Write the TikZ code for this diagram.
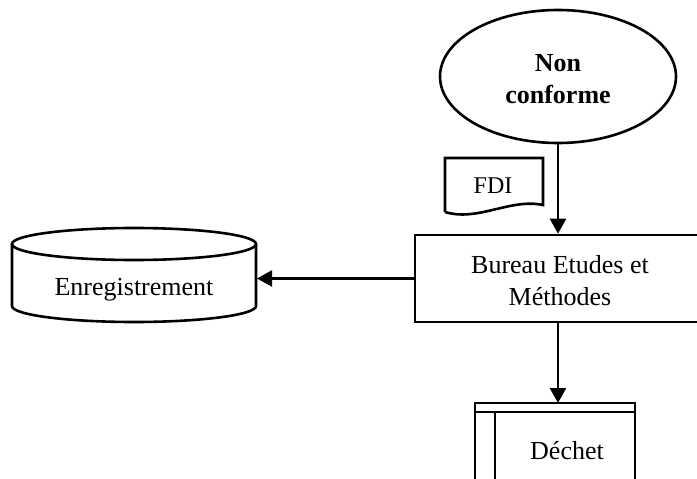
\documentclass[tikz,border=0pt]{standalone}
\usepackage{fontspec}
\setmainfont{Liberation Serif}
\usetikzlibrary{shapes.geometric,arrows.meta,calc}
\begin{document}
\begin{tikzpicture}[x=1pt,y=-1pt,
  outline/.style={draw=black,line width=2.6pt},
  flow/.style={line width=2.6pt,-{Triangle[length=15pt,width=16pt]}},
  txt/.style={font=\fontsize{26}{32}\selectfont,align=center,inner sep=0pt}]
\useasboundingbox (0,0) rectangle (697,479);
\clip (0,0) rectangle (697,479);

% start event
\node[outline,ellipse,minimum width=236pt,minimum height=133pt,inner sep=0pt] (nc) at (558,76.5) {};
\node[txt,font=\fontsize{26}{32}\selectfont\bfseries] (nctext) at (558,79) {Non\\conforme};

% processing office
\node[outline,rectangle,minimum width=290pt,minimum height=87pt] (bem) at (560,278.5) {};
\node[txt] (bemtext) at (560,281) {Bureau Etudes et\\Méthodes};

% document symbol
\draw[outline,line join=miter] (445,212) -- (445,158) -- (543,158) -- (543,205)
  .. controls (510,198) and (478,222) .. (445,212);
\node[txt,font=\fontsize{24}{28}\selectfont] (fdi) at (493,186) {FDI};

% storage cylinder
\draw[outline] (12,244) -- (12,306) arc[start angle=180,end angle=0,x radius=122,y radius=16]
  -- (256,244);
\draw[outline] (134,244) ellipse[x radius=122,y radius=16];
\node[txt] (enr) at (134,290) {Enregistrement};
\coordinate (enrE) at (257,277);

% waste store
\draw[outline] (475,490) -- (475,403) -- (635,403) -- (635,490);
\draw[outline] (475,412) -- (635,412);
\draw[outline] (495,412) -- (495,490);
\node[txt] (dech) at (567,451) {Déchet};
\coordinate (dechN) at (558,403);

% connectors
\draw[flow] (nc.south) -- (nc.south |- bem.north);
\draw[flow] (bem.west) -- (enrE |- bem.west);
\draw[flow] (nc.south |- bem.south) -- (dechN);
\end{tikzpicture}
\end{document}
